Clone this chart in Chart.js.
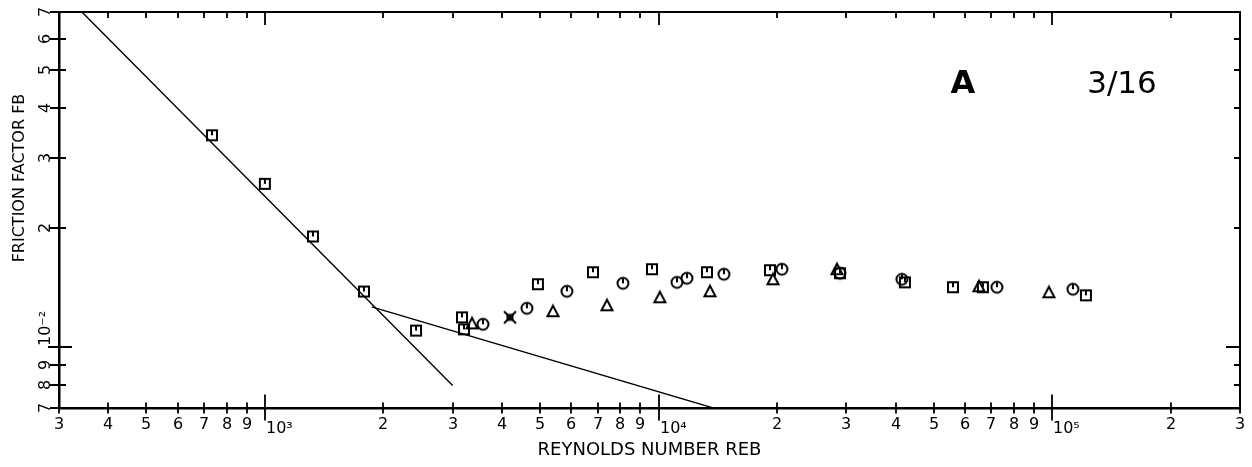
<!DOCTYPE html>
<html>
<head>
<meta charset="utf-8">
<script src="https://cdn.jsdelivr.net/npm/chart.js@4"></script>
<style>
  html, body { margin: 0; padding: 0; background: #fff; }
  #wrap { width: 1252px; height: 467px; }
</style>
</head>
<body>
<div id="wrap"><canvas id="frictionChart" width="1252" height="467"></canvas></div>
<script>
// measured points, one pair of arrays per symbol
const squareRe = [734, 1000, 1325, 1786, 2421, 3168, 3205, 4940, 6815, 9624, 13275, 19190, 28900, 42260, 55980, 66700, 121800];
const squareF = [0.0342, 0.0258, 0.0190, 0.0138, 0.0110, 0.01188, 0.01108, 0.0144, 0.01544, 0.01571, 0.01544, 0.01562, 0.01535, 0.01456, 0.01415, 0.01415, 0.0135];

const circleRe = [3582, 4632, 5853, 8124, 11140, 11810, 14660, 20580, 28900, 41530, 72380, 112900];
const circleF = [0.01141, 0.01252, 0.01382, 0.01448, 0.01456, 0.01491, 0.01526, 0.01571, 0.01535, 0.01482, 0.01415, 0.01399];

const triangleRe = [3360, 5394, 7398, 10080, 13510, 19530, 28400, 65170, 98100];
const triangleF = [0.01147, 0.01231, 0.01274, 0.01335, 0.01382, 0.01482, 0.01571, 0.01423, 0.01374];

const crossRe = [4194];
const crossF = [0.01188];

// laminar and turbulent correlation lines
const laminarRe = [343, 3000];
const laminarF = [0.07, 0.008];
const turbRe = [1868, 13900];
const turbF = [0.01262, 0.007];

const xTicks = [300, 400, 500, 600, 700, 800, 900, 1000, 2000, 3000, 4000, 5000, 6000, 7000, 8000, 9000,
  10000, 20000, 30000, 40000, 50000, 60000, 70000, 80000, 90000, 100000, 200000, 300000];
const xTickLabels = ["3", "4", "5", "6", "7", "8", "9", "10\u00B3", "2", "3", "4", "5", "6", "7", "8", "9",
  "10\u2074", "2", "3", "4", "5", "6", "7", "8", "9", "10\u2075", "2", "3"];
const yTicks = [0.007, 0.008, 0.009, 0.01, 0.02, 0.03, 0.04, 0.05, 0.06, 0.07];
const yTickLabels = ["7", "8", "9", "10\u207B\u00B2", "2", "3", "4", "5", "6", "7"];

const pairs = (xs, ys) => xs.map((v, i) => ({ x: v, y: ys[i] }));

function makeMarker(kind) {
  const c = document.createElement("canvas");
  c.width = 16;
  c.height = 16;
  const g = c.getContext("2d");
  g.strokeStyle = "#000";
  g.lineWidth = 2;
  if (kind === "square") {
    g.strokeRect(3, 3, 10, 10);
    g.beginPath();
    g.moveTo(8, 3);
    g.lineTo(8, 8);
    g.stroke();
  } else if (kind === "circle") {
    g.beginPath();
    g.arc(8, 8, 5.5, 0, Math.PI * 2);
    g.stroke();
    g.beginPath();
    g.moveTo(8, 2.5);
    g.lineTo(8, 8);
    g.stroke();
  } else if (kind === "triangle") {
    g.beginPath();
    g.moveTo(8, 2.5);
    g.lineTo(13.5, 13);
    g.lineTo(2.5, 13);
    g.closePath();
    g.stroke();
  } else {
    g.strokeRect(5.5, 5.5, 5, 5);
    g.beginPath();
    g.moveTo(2, 2); g.lineTo(14, 14);
    g.moveTo(14, 2); g.lineTo(2, 14);
    g.stroke();
  }
  return c;
}

const isDecade = (label) => label.indexOf("10") === 0;

// tick marks on all four sides, tick labels, y title and the panel captions
const axisDecor = {
  id: "axisDecor",
  afterDraw(chart) {
    const { ctx, chartArea: a, scales: { x, y } } = chart;
    ctx.save();
    ctx.strokeStyle = "#000";
    ctx.fillStyle = "#000";

    ctx.lineWidth = 2;
    ctx.beginPath();
    ctx.moveTo(a.left, a.top);
    ctx.lineTo(a.right, a.top);
    ctx.lineTo(a.right, a.bottom);
    ctx.stroke();

    ctx.lineWidth = 1.8;
    ctx.font = '16px "DejaVu Sans"';
    ctx.textBaseline = "alphabetic";

    x.ticks.forEach((t, i) => {
      const px = Math.round(x.getPixelForValue(t.value));
      const label = xTickLabels[i];
      const big = isDecade(label);
      ctx.beginPath();
      ctx.moveTo(px, a.bottom - (big ? 14 : 6));
      ctx.lineTo(px, a.bottom + (big ? 12 : 5));
      ctx.moveTo(px, a.top);
      ctx.lineTo(px, a.top + (big ? 13 : 6));
      ctx.stroke();
      if (big) {
        ctx.textAlign = "left";
        ctx.fillText(label, px + 1, a.bottom + 25);
      } else {
        ctx.textAlign = "center";
        ctx.fillText(label, px, a.bottom + 21);
      }
    });

    y.ticks.forEach((t, i) => {
      const py = Math.round(y.getPixelForValue(t.value));
      const label = yTickLabels[i];
      const big = isDecade(label);
      ctx.beginPath();
      ctx.moveTo(a.left - (big ? 11 : 9), py);
      ctx.lineTo(a.left + (big ? 13 : 7), py);
      ctx.moveTo(a.right - (big ? 14 : 6), py);
      ctx.lineTo(a.right, py);
      ctx.stroke();
      ctx.save();
      ctx.translate(a.left - 9, py);
      ctx.rotate(-Math.PI / 2);
      if (big) {
        ctx.textAlign = "left";
        ctx.fillText(label, 1, 0);
      } else {
        ctx.textAlign = "center";
        ctx.fillText(label, 0, 0);
      }
      ctx.restore();
    });

    ctx.save();
    ctx.translate(24, 178);
    ctx.rotate(-Math.PI / 2);
    ctx.textAlign = "center";
    ctx.fillText("FRICTION FACTOR FB", 0, 0);
    ctx.restore();

    ctx.font = 'bold 32px "DejaVu Sans"';
    ctx.textAlign = "center";
    ctx.fillText("A", 963, 93);
    ctx.font = '31px "DejaVu Sans"';
    ctx.fillText("3/16", 1122, 93);
    ctx.restore();
  }
};

const pointSet = (xs, ys, kind) => ({
  data: pairs(xs, ys),
  pointStyle: makeMarker(kind),
  pointRadius: 6,
  showLine: false
});

const lineSet = (xs, ys) => ({
  data: pairs(xs, ys),
  showLine: true,
  borderColor: "#000",
  borderWidth: 1.4,
  pointRadius: 0
});

new Chart(document.getElementById("frictionChart"), {
  type: "scatter",
  data: {
    datasets: [
      lineSet(laminarRe, laminarF),
      lineSet(turbRe, turbF),
      pointSet(squareRe, squareF, "square"),
      pointSet(circleRe, circleF, "circle"),
      pointSet(triangleRe, triangleF, "triangle"),
      pointSet(crossRe, crossF, "cross")
    ]
  },
  options: {
    responsive: false,
    devicePixelRatio: 1,
    animation: false,
    layout: { padding: { left: 59, right: 12, top: 12, bottom: 0 } },
    plugins: {
      legend: { display: false },
      tooltip: { enabled: false }
    },
    scales: {
      x: {
        type: "logarithmic",
        min: 300,
        max: 300000,
        afterBuildTicks: (s) => { s.ticks = xTicks.map((v) => ({ value: v })); },
        ticks: { display: false },
        grid: { display: false, drawTicks: false },
        border: { display: true, color: "#000", width: 2.5 },
        title: {
          display: true,
          text: "REYNOLDS NUMBER REB",
          color: "#000",
          font: { family: "DejaVu Sans", size: 18 },
          padding: { top: 31, bottom: 6 }
        }
      },
      y: {
        type: "logarithmic",
        min: 0.007,
        max: 0.07,
        afterBuildTicks: (s) => { s.ticks = yTicks.map((v) => ({ value: v })); },
        ticks: { display: false },
        grid: { display: false, drawTicks: false },
        border: { display: true, color: "#000", width: 2.5 }
      }
    }
  },
  plugins: [axisDecor]
});
</script>
</body>
</html>
